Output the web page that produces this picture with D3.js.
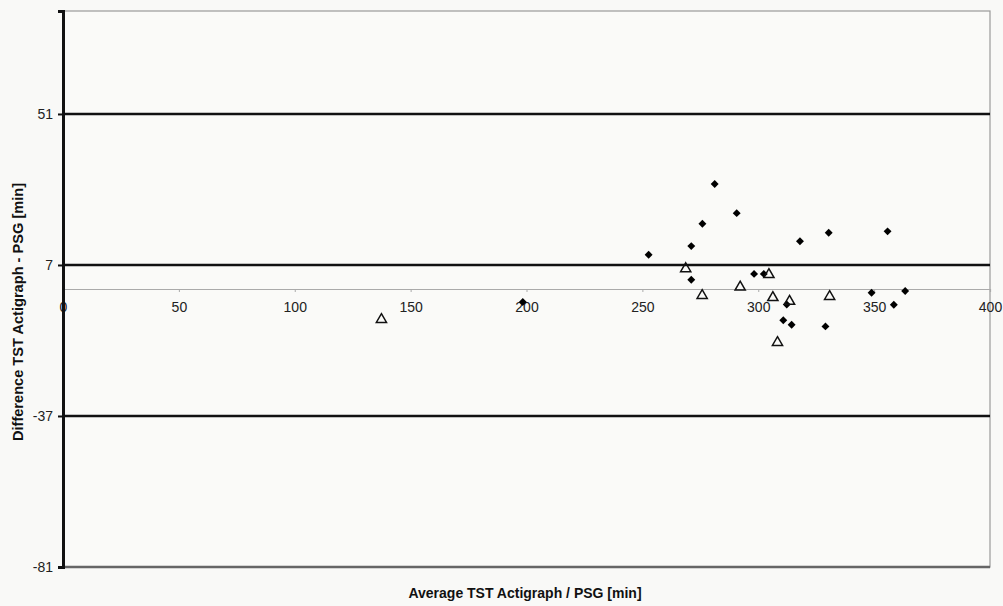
<!DOCTYPE html>
<html>
<head>
<meta charset="utf-8">
<script src="https://cdn.jsdelivr.net/npm/d3@7"></script>
<style>
  body { margin: 0; background: #f9f9f7; }
  text { font-family: "Liberation Sans", Arial, sans-serif; }
</style>
</head>
<body>
<svg id="chart" width="1003" height="606"></svg>
<script>
// Bland-Altman: difference vs average TST
const xTicks = [0, 50, 100, 150, 200, 250, 300, 350, 400];
const yTicks = [-81, -37, 7, 51];
const refLines = [51, 7, -37]; // upper limit, mean, lower limit

// filled diamonds
const diamondX = [252.7, 281.2, 275.9, 271.1, 290.7, 271.1, 298.2, 302.4, 318.0, 330.4, 355.8, 348.9, 363.4, 358.5, 312.3, 310.8, 314.4, 329.0, 198.4];
const diamondY = [10.0, 30.6, 19.0, 12.5, 22.1, 2.7, 4.4, 4.4, 13.9, 16.4, 16.8, -1.1, -0.6, -4.6, -4.5, -9.1, -10.4, -10.9, -3.8];

// open triangles
const triX = [268.7, 275.8, 292.2, 304.6, 306.3, 313.5, 330.8, 308.3, 137.4];
const triY = [5.9, -1.9, 0.55, 4.2, -2.5, -3.6, -2.2, -15.6, -8.9];

const margin = {top: 11, right: 13, bottom: 39, left: 63};
const W = 1003, H = 606;

const svg = d3.select('#chart');

const x = d3.scaleLinear().domain([0, 400]).range([margin.left, W - margin.right]);
const y = d3.scaleLinear().domain([-81, 81]).range([H - margin.bottom, margin.top]);

// plot frame (top / right / bottom)
svg.append('rect')
  .attr('x', x(0)).attr('y', y(81))
  .attr('width', x(400) - x(0)).attr('height', y(-81) - y(81))
  .attr('fill', '#fafaf8')
  .attr('stroke', '#999').attr('stroke-width', 1.2);

svg.append('line')
  .attr('x1', x(0)).attr('x2', x(400))
  .attr('y1', y(-81)).attr('y2', y(-81))
  .attr('stroke', '#666').attr('stroke-width', 2.5);

// reference lines
svg.selectAll('line.ref')
  .data(refLines)
  .enter().append('line')
  .attr('class', 'ref')
  .attr('x1', x(0)).attr('x2', x(400))
  .attr('y1', d => y(d)).attr('y2', d => y(d))
  .attr('stroke', '#111').attr('stroke-width', 2.5);

// x axis along zero
const xAxis = svg.append('g')
  .attr('transform', 'translate(0,' + y(0) + ')')
  .call(d3.axisBottom(x).tickValues(xTicks).tickSize(3).tickPadding(10).tickFormat(d => String(d)));
xAxis.select('.domain').attr('stroke', '#aaa').attr('stroke-width', 1.2);
xAxis.selectAll('.tick line').attr('stroke', '#aaa');
xAxis.selectAll('text').attr('font-size', 14).attr('fill', '#222');

// y axis
const yAxis = svg.append('g')
  .attr('transform', 'translate(' + x(0) + ',0)')
  .call(d3.axisLeft(y).tickValues(yTicks).tickSize(5).tickPadding(5).tickFormat(d => String(d)));
yAxis.select('.domain').attr('stroke', '#111').attr('stroke-width', 3);
yAxis.selectAll('.tick line').attr('stroke', '#111').attr('stroke-width', 2);
yAxis.selectAll('text').attr('font-size', 14).attr('fill', '#222');

// diamonds
const diamonds = diamondX.map((d, i) => ({x: d, y: diamondY[i]}));
svg.selectAll('path.dia')
  .data(diamonds)
  .enter().append('path')
  .attr('class', 'dia')
  .attr('d', d3.symbol(d3.symbolDiamond2, 40))
  .attr('transform', d => 'translate(' + x(d.x) + ',' + y(d.y) + ')')
  .attr('fill', '#000');

// triangles
const tris = triX.map((d, i) => ({x: d, y: triY[i]}));
svg.selectAll('path.tri')
  .data(tris)
  .enter().append('path')
  .attr('class', 'tri')
  .attr('d', d3.symbol(d3.symbolTriangle, 45))
  .attr('transform', d => 'translate(' + x(d.x) + ',' + y(d.y) + ')')
  .attr('fill', 'none')
  .attr('stroke', '#111').attr('stroke-width', 1.5);

// axis titles
svg.append('text')
  .attr('x', 525).attr('y', 598)
  .attr('text-anchor', 'middle')
  .attr('font-size', 14).attr('font-weight', 'bold').attr('fill', '#111')
  .text('Average TST Actigraph / PSG [min]');

svg.append('text')
  .attr('transform', 'translate(23,312) rotate(-90)')
  .attr('text-anchor', 'middle')
  .attr('font-size', 14.6).attr('font-weight', 'bold').attr('fill', '#111')
  .text('Difference TST Actigraph - PSG [min]');
</script>
</body>
</html>
